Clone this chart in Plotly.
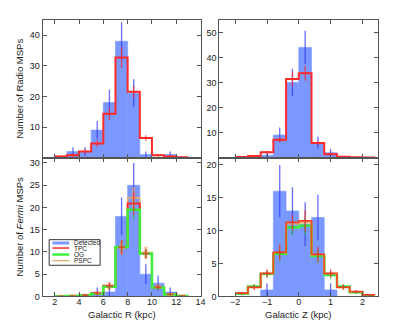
import numpy as np
import plotly.graph_objects as go

# ビン境界
r_edges = [2, 3, 4, 5, 6, 7, 8, 9, 10, 11, 12, 13]
z_edges = [-2.0, -1.6, -1.2, -0.8, -0.4, 0.0, 0.4, 0.8, 1.2, 1.6, 2.0, 2.4]

# Radio MSPs
radio_r_det = [0, 2, 2, 9, 18, 38, 21, 1, 0, 1, 0]
radio_r_tpc = [0.4, 0.8, 2.0, 4.6, 14.3, 32.7, 21.5, 6.4, 0.8, 0.4, 0.1]
radio_r_tpc_err = [0.2, 0.5, 0.8, 1.2, 2.1, 3.4, 2.0, 0.9, 0.4, 0.3, 0.1]

radio_z_det = [0, 0, 1, 9, 30, 44, 6, 2, 0, 0, 0]
radio_z_tpc = [0.3, 0.7, 2.2, 7.1, 31.4, 33.7, 5.8, 1.4, 0.4, 0.15, 0.05]
radio_z_tpc_err = [0.2, 0.3, 0.6, 1.0, 3.0, 3.0, 0.9, 0.5, 0.2, 0.1, 0.05]

# Fermi MSPs
fermi_r_det = [0, 0, 0, 1, 1, 18, 25, 5, 3, 1, 0]
fermi_r_tpc = [0.05, 0.1, 0.3, 0.75, 2.4, 11.1, 20.9, 9.6, 2.1, 0.5, 0.1]
fermi_r_og = [0.05, 0.1, 0.25, 0.6, 2.2, 11.1, 19.5, 9.6, 2.0, 0.45, 0.1]
fermi_r_pspc = [0.05, 0.1, 0.3, 0.7, 2.3, 11.0, 22.2, 9.8, 2.2, 0.5, 0.1]
fermi_r_tpc_err = [0.05, 0.1, 0.2, 0.4, 0.7, 1.6, 2.6, 1.0, 0.6, 0.3, 0.1]
fermi_r_og_err = [0.05, 0.1, 0.2, 0.4, 0.6, 1.5, 2.2, 1.0, 0.6, 0.3, 0.1]
fermi_r_pspc_err = [0.05, 0.1, 0.2, 0.4, 0.9, 1.6, 2.4, 1.4, 0.6, 0.3, 0.1]

fermi_z_det = [0, 0, 1, 16, 13, 11, 12, 1, 0, 0, 0]
fermi_z_tpc = [0.5, 1.4, 3.5, 6.7, 11.25, 11.5, 6.4, 3.5, 1.4, 0.75, 0.25]
fermi_z_og = [0.4, 1.5, 3.4, 6.5, 10.5, 10.75, 6.15, 3.25, 1.5, 0.65, 0.15]
fermi_z_pspc = [0.45, 1.45, 3.45, 6.6, 11.0, 11.2, 6.3, 3.4, 1.45, 0.7, 0.2]
fermi_z_tpc_err = [0.2, 0.4, 0.6, 1.2, 1.2, 1.6, 1.2, 0.6, 0.4, 0.25, 0.1]
fermi_z_og_err = [0.2, 0.4, 0.6, 1.1, 1.2, 1.4, 1.1, 0.6, 0.4, 0.25, 0.1]

W, H = 399, 324
BLUE = 'rgb(122,152,255)'
BLUE_ERR = 'rgba(50,60,255,0.75)'
RED = '#ff2a2a'
GREEN = '#3cf03c'
TAN = '#e0b070'
FONT = 'Liberation Sans, Arial, sans-serif'


def fx(px):
    return px / W


def fy(py):
    return 1 - py / H


def centers(edges):
    e = np.array(edges, dtype=float)
    return (e[:-1] + e[1:]) / 2


def add_detected(fig, edges, det, xa, ya):
    c = centers(edges)
    w = edges[1] - edges[0]
    fig.add_trace(go.Bar(
        x=c, y=det, width=w, marker=dict(color=BLUE, line=dict(width=0.6, color=BLUE)),
        xaxis=xa, yaxis=ya, showlegend=False
    ))
    # ポアソン誤差
    m = [d > 0 for d in det]
    fig.add_trace(go.Scatter(
        x=c[m], y=np.array(det)[m], mode='markers', marker=dict(size=0.1, opacity=0),
        error_y=dict(type='data', array=np.sqrt(np.array(det)[m]), width=0,
                     thickness=1.3, color=BLUE_ERR),
        xaxis=xa, yaxis=ya, showlegend=False
    ))


def add_model(fig, edges, vals, color, width, xa, ya):
    fig.add_trace(go.Scatter(
        x=edges, y=list(vals) + [vals[-1]], mode='lines', line_shape='hv',
        line=dict(color=color, width=width), xaxis=xa, yaxis=ya, showlegend=False
    ))


def add_cross(fig, edges, vals, errs, color, xerr, thick, xa, ya):
    fig.add_trace(go.Scatter(
        x=centers(edges), y=vals, mode='markers', marker=dict(size=0.1, opacity=0),
        error_y=dict(type='data', array=errs, width=0, thickness=thick, color=color),
        error_x=dict(type='constant', value=xerr, width=0, thickness=thick, color=color),
        xaxis=xa, yaxis=ya, showlegend=False
    ))


fig = go.Figure()

# 上段左: Radio R
add_detected(fig, r_edges, radio_r_det, 'x', 'y')
add_model(fig, r_edges, radio_r_tpc, RED, 2, 'x', 'y')
add_cross(fig, r_edges, radio_r_tpc, radio_r_tpc_err, 'rgba(255,40,40,0.8)', 0.28, 1.2, 'x', 'y')

# 上段右: Radio Z
add_detected(fig, z_edges, radio_z_det, 'x2', 'y2')
add_model(fig, z_edges, radio_z_tpc, RED, 2, 'x2', 'y2')
add_cross(fig, z_edges, radio_z_tpc, radio_z_tpc_err, 'rgba(255,40,40,0.8)', 0.12, 1.2, 'x2', 'y2')

# 下段左: Fermi R
add_detected(fig, r_edges, fermi_r_det, 'x3', 'y3')
add_model(fig, r_edges, fermi_r_pspc, TAN, 1.5, 'x3', 'y3')
add_model(fig, r_edges, fermi_r_tpc, RED, 2, 'x3', 'y3')
add_model(fig, r_edges, fermi_r_og, GREEN, 2.5, 'x3', 'y3')
add_cross(fig, r_edges, fermi_r_pspc, fermi_r_pspc_err, 'rgba(230,150,100,0.6)', 0.28, 3, 'x3', 'y3')
add_cross(fig, r_edges, fermi_r_og, fermi_r_og_err, 'rgba(40,200,40,0.8)', 0.28, 1.2, 'x3', 'y3')
add_cross(fig, r_edges, fermi_r_tpc, fermi_r_tpc_err, 'rgba(255,40,40,0.8)', 0.28, 1.2, 'x3', 'y3')

# 下段右: Fermi Z
add_detected(fig, z_edges, fermi_z_det, 'x4', 'y4')
add_model(fig, z_edges, fermi_z_og, GREEN, 2.5, 'x4', 'y4')
add_model(fig, z_edges, fermi_z_pspc, TAN, 1.5, 'x4', 'y4')
add_model(fig, z_edges, fermi_z_tpc, '#f04a20', 1.8, 'x4', 'y4')
add_cross(fig, z_edges, fermi_z_og, fermi_z_og_err, 'rgba(40,200,40,0.8)', 0.12, 1.2, 'x4', 'y4')
add_cross(fig, z_edges, fermi_z_tpc, fermi_z_tpc_err, 'rgba(255,40,40,0.85)', 0.12, 1.2, 'x4', 'y4')

ax = dict(showline=True, linecolor='#555', linewidth=1, mirror='ticks', ticks='inside',
          ticklen=4, tickcolor='#555', showgrid=False, zeroline=False,
          tickfont=dict(size=9, color='#222', family=FONT))

left_dom = [fx(35), fx(195)]
right_dom = [fx(214), fx(375)]
top_dom = [fy(152), fy(12)]
bot_dom = [fy(293), fy(152)]

fig.update_layout(
    width=W, height=H, margin=dict(l=0, r=0, t=0, b=0),
    paper_bgcolor='white', plot_bgcolor='white', barmode='overlay', showlegend=False,
    font=dict(family=FONT, color='#222'),
    xaxis=dict(ax, domain=left_dom, range=[1, 14], tickvals=[2, 4, 6, 8, 10, 12],
               showticklabels=False, anchor='y'),
    yaxis=dict(ax, domain=top_dom, range=[0, 45], tickvals=[10, 20, 30, 40], anchor='x'),
    xaxis2=dict(ax, domain=right_dom, range=[-2.5, 2.5], tickvals=[-2, -1, 0, 1, 2],
                showticklabels=False, anchor='y2'),
    yaxis2=dict(ax, domain=top_dom, range=[0, 55], tickvals=[10, 20, 30, 40, 50], anchor='x2'),
    xaxis3=dict(ax, domain=left_dom, range=[1, 14], tickvals=[2, 4, 6, 8, 10, 12, 14],
                anchor='y3', ticklabelstandoff=-3),
    yaxis3=dict(ax, domain=bot_dom, range=[0, 31.2], tickvals=[0, 5, 10, 15, 20, 25, 30], anchor='x3'),
    xaxis4=dict(ax, domain=right_dom, range=[-2.5, 2.5], tickvals=[-2, -1, 0, 1, 2],
                anchor='y4', ticklabelstandoff=-3),
    yaxis4=dict(ax, domain=bot_dom, range=[0, 21.1], tickvals=[0, 5, 10, 15, 20], anchor='x4'),
)

ann = [
    dict(text='Number of Radio MSPs', x=fx(12), y=fy(82), textangle=-90),
    dict(text='Number of <i>Fermi</i> MSPs', x=fx(12), y=fy(222), textangle=-90),
    dict(text='Galactic R (kpc)', x=fx(115), y=fy(311)),
    dict(text='Galactic Z (kpc)', x=fx(294), y=fy(311)),
]
for a in ann:
    fig.add_annotation(xref='paper', yref='paper', showarrow=False,
                       xanchor='center', yanchor='middle',
                       font=dict(size=9.5, family=FONT, color='#222'), **a)

# 凡例（手描き）
fig.add_shape(type='rect', xref='paper', yref='paper', x0=fx(41.7), x1=fx(93.3),
              y0=fy(261.3), y1=fy(235.3), line=dict(color='#333', width=1),
              fillcolor='white', layer='above')
fig.add_shape(type='rect', xref='paper', yref='paper', x0=fx(45), x1=fx(62),
              y0=fy(240.2), y1=fy(237.2), line=dict(width=0), fillcolor=BLUE, layer='above')
for py, col, lw in [(243.8, RED, 1.5), (250.4, GREEN, 2.5), (256.6, TAN, 1.3)]:
    fig.add_shape(type='line', xref='paper', yref='paper', x0=fx(45), x1=fx(62),
                  y0=fy(py), y1=fy(py), line=dict(color=col, width=lw), layer='above')
for py, t in [(238.6, 'Detected'), (244.4, 'TPC'), (250.4, 'OG'), (256.4, 'PSPC')]:
    fig.add_annotation(xref='paper', yref='paper', x=fx(65), y=fy(py), text=t,
                       showarrow=False, xanchor='left', yanchor='middle',
                       font=dict(size=6.5, family=FONT, color='#222'))

fig.write_html("out.html")
